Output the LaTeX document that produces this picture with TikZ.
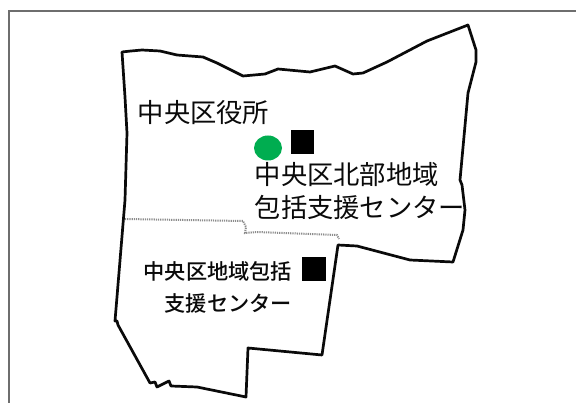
\documentclass[tikz,border=0pt]{standalone}
\usepackage{fontspec}
\usetikzlibrary{shapes.geometric}
\newfontfamily\cjk{Noto Sans CJK JP}
\newfontfamily\cjkmed{Noto Sans CJK JP Medium}
\definecolor{framegray}{HTML}{6E6E6E}
\definecolor{officegreen}{HTML}{00AD50}
\definecolor{dotgray}{HTML}{8C8C8C}
\definecolor{ink}{HTML}{0A0A0A}
\tikzset{
  biglabel/.style={anchor=west,inner sep=0pt,font=\cjk\fontsize{26.3}{26}\selectfont,text=ink},
  smalllabel/.style={anchor=west,inner sep=0pt,font=\cjkmed\fontsize{21.2}{21}\selectfont,text=ink},
  ward/.style={draw=ink,line width=2.7pt,line join=round},
  marker/.style={fill=black,draw=none},
  innerline/.style={draw=dotgray,line width=2pt,dash pattern=on 1.2pt off 1pt},
  framing/.style={draw=framegray,line width=2pt}
}
\begin{document}
\begin{tikzpicture}[x=1pt,y=-1pt]
\useasboundingbox[fill=white] (0,0) rectangle (576,403);
\draw[framing] (9,403) -- (9,11) -- (576,11);
\draw[innerline] (125,219) -- (243,221) -- (246,227) -- (245,233) -- (257,232) -- (337,235) -- (339,239);
\draw[ward] (122,52) -- (131,51) -- (142,50) -- (160,51) -- (177,55) -- (203,57) -- (217,63) -- (243,76)
  -- (265,74) -- (278,69) -- (310,72) -- (335,66) -- (353,74) -- (363,73) -- (387,62) -- (427,41)
  -- (468,25) -- (476,50) -- (476,62) -- (468,93) -- (460,180) -- (462,185) -- (465,210) -- (463,230)
  -- (453,262) -- (410,260) -- (357,246) -- (338,245) -- (322,355) -- (248,348) -- (246,397)
  -- (197,387) -- (171,386) -- (169,381) -- (163,384) -- (157,387) -- (155,382) -- (150,383)
  -- (118,325) -- (117,321) -- (115,321) -- (125,200) -- (127,133) -- (125,97) -- cycle;
\node[fill=officegreen,draw=none,ellipse,minimum width=28pt,minimum height=25pt,inner sep=0pt] (office) at (268,148) {};
\node[marker,minimum width=23pt,minimum height=24pt,inner sep=0pt] (north) at (302.5,142) {};
\node[marker,minimum width=24pt,minimum height=24pt,inner sep=0pt] (center) at (314,269) {};
\node[biglabel] (t1) at (137.5,113) {中央区役所};
\node[biglabel] (t2) at (254.5,175) {中央区北部地域};
\node[biglabel] (t3) at (254.5,207) {包括支援センター};
\node[smalllabel] (t4) at (143.5,271) {中央区地域包括};
\node[smalllabel] (t5) at (164.5,303) {支援センター};
\end{tikzpicture}
\end{document}
